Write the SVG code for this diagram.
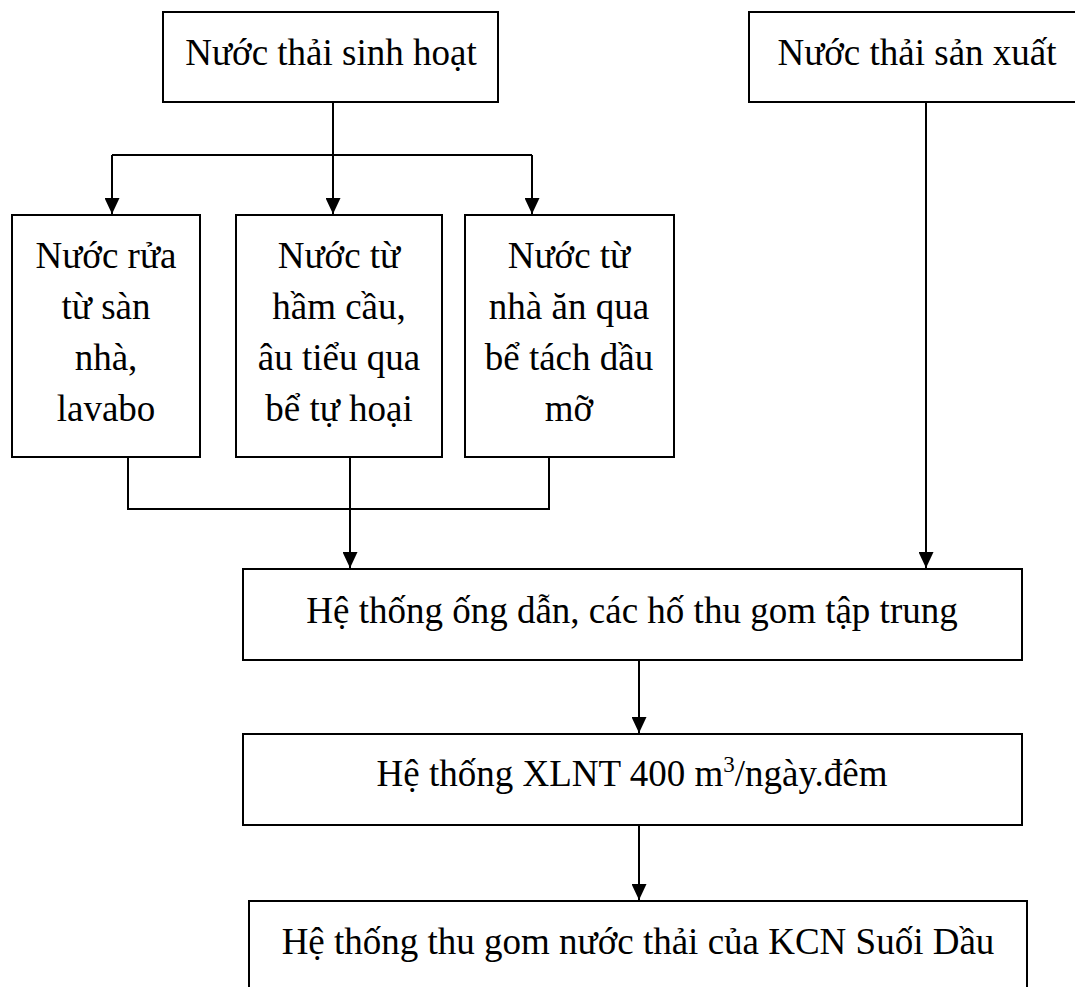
<svg xmlns="http://www.w3.org/2000/svg" width="1075" height="987" viewBox="0 0 1075 987">
<defs>
<marker id="ah" viewBox="0 0 16 15" refX="16" refY="7.5" markerWidth="16" markerHeight="15" markerUnits="userSpaceOnUse" orient="auto">
<path d="M0,0 L16,7.5 L0,15 Z" fill="#000"/>
</marker>
</defs>
<style>
.box{fill:#fff;stroke:#000;stroke-width:2}
.t{font-family:"Liberation Serif","Times New Roman",serif;font-size:37px;fill:#000;text-anchor:middle}
.c{fill:none;stroke:#000;stroke-width:2}
.a{fill:none;stroke:#000;stroke-width:2;marker-end:url(#ah)}
</style>
<rect width="1075" height="987" fill="#fff"/>
<g id="n_sinhhoat"><rect class="box" x="163" y="12" width="335" height="90"/><text class="t" x="331" y="65">Nước thải sinh hoạt</text></g>
<g id="n_sanxuat"><rect class="box" x="749" y="12" width="340" height="90"/><text class="t" x="917" y="65">Nước thải sản xuất</text></g>
<g id="n_rua"><rect class="box" x="12" y="215" width="188" height="242"/><text class="t" x="106" y="268">Nước rửa</text><text class="t" x="106" y="319">từ sàn</text><text class="t" x="106" y="370">nhà,</text><text class="t" x="106" y="421">lavabo</text></g>
<g id="n_hamcau"><rect class="box" x="236" y="215" width="206" height="242"/><text class="t" x="339" y="268">Nước từ</text><text class="t" x="339" y="319">hầm cầu,</text><text class="t" x="339" y="370">âu tiểu qua</text><text class="t" x="339" y="421">bể tự hoại</text></g>
<g id="n_nhaan"><rect class="box" x="465" y="215" width="209" height="242"/><text class="t" x="569" y="268">Nước từ</text><text class="t" x="569" y="319">nhà ăn qua</text><text class="t" x="569" y="370">bể tách dầu</text><text class="t" x="569" y="421">mỡ</text></g>
<g id="n_ongdan"><rect class="box" x="243" y="569" width="779" height="91"/><text class="t" x="632" y="623">Hệ thống ống dẫn, các hố thu gom tập trung</text></g>
<g id="n_xlnt"><rect class="box" x="243" y="734" width="779" height="91"/><text class="t" x="632" y="786">Hệ thống XLNT 400 m<tspan dy="-14" font-size="23">3</tspan><tspan dy="14">/ngày.đêm</tspan></text></g>
<g id="n_kcn"><rect class="box" x="249" y="901" width="778" height="100"/><text class="t" x="638" y="954">Hệ thống thu gom nước thải của KCN Suối Dầu</text></g>
<g id="connectors">
<line class="c" x1="333" y1="102" x2="333" y2="155"/>
<line class="c" x1="112" y1="155" x2="532" y2="155"/>
<line class="a" x1="112" y1="155" x2="112" y2="214"/>
<line class="a" x1="333" y1="155" x2="333" y2="214"/>
<line class="a" x1="532" y1="155" x2="532" y2="214"/>
<polyline class="c" points="128,457 128,509 549,509 549,457"/>
<line class="c" x1="350" y1="457" x2="350" y2="509"/>
<line class="a" x1="350" y1="509" x2="350" y2="568"/>
<line class="a" x1="926" y1="102" x2="926" y2="568"/>
<line class="a" x1="639" y1="660" x2="639" y2="733"/>
<line class="a" x1="639" y1="825" x2="639" y2="900"/>
</g>
</svg>
